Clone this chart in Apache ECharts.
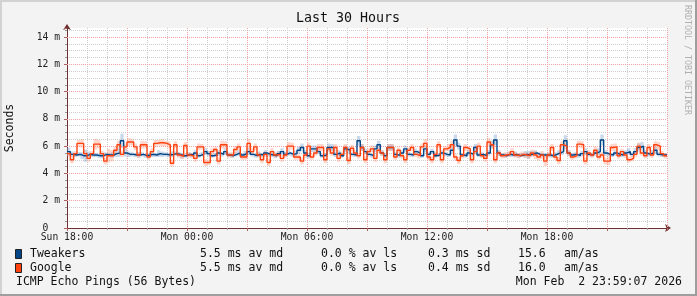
<!DOCTYPE html>
<html><head><meta charset="utf-8">
<script src="https://cdn.jsdelivr.net/npm/echarts@6/dist/echarts.min.js"></script>
<style>html,body{margin:0;padding:0;background:#f3f3f3}#c{width:697px;height:296px}</style>
</head><body><div id="c"></div>
<script>
// ---- data ----
const chartTitle = 'Last 30 Hours';
const yAxisName = 'Seconds';
const watermark = 'RRDTOOL / TOBI OETIKER';
const xTickHours = [0, 6, 12, 18, 24];
const xTickLabels = ['Sun 18:00', 'Mon 00:00', 'Mon 06:00', 'Mon 12:00', 'Mon 18:00'];
const spanHours = 30;
const seriesNames = ['Tweakers', 'Google'];
const medianAvg = [5.5, 5.5];
const lossAvg = [0.0, 0.0];
const sdAvg = [0.3, 0.4];
const amas = [15.6, 16.0];
const footerLeft = 'ICMP Echo Pings (56 Bytes)';
const footerRight = 'Mon Feb  2 23:59:07 2026';

// median RTT (ms), 10-minute steps
const tweakersMedian = [
5.6,5.4,5.35,5.4,5.3,5.3,5.4,5.35,5.35,5.3, 5.3,5.4,5.35,5.35,5.45,5.5,6.4,5.5,5.4,5.4, 5.35,5.35,5.4,5.3,5.35,5.4,5.35,5.45,5.4,5.4, 5.35,5.4,5.45,5.4,5.3,5.3,
5.4,5.35,5.5,5.3,5.4,5.6,5.45,5.3,5.35,5.5, 5.4,5.6,5.35,5.3,5.4,5.5,5.35,5.45,5.6,5.4, 5.3,5.4,5.35,5.5,5.4,5.35,5.3,5.45,5.6,5.4, 5.5,5.4,5.45,5.7,5.9,5.5,
5.3,5.8,5.8,5.6,5.3,5.35,5.9,5.9,5.4,5.5, 5.3,5.8,5.7,5.4,5.35,6.4,5.9,5.6,5.4,5.3, 5.8,6.1,5.5,5.3,5.9,5.9,5.4,5.3,5.5,5.8, 5.4,5.35,5.6,5.5,5.3,5.8,
5.4,5.6,5.3,5.35,5.5,5.4,5.35,5.7,6.45,6.0, 5.35,5.3,5.5,5.4,5.9,5.35,5.4,5.3,5.5,6.1, 6.45,5.5,5.35,5.3,5.4,5.35,5.4,5.3,5.35,5.4, 5.35,5.45,5.5,5.4,5.35,5.35,
5.35,5.3,5.4,5.5,5.6,6.4,5.5,5.35,5.4,5.3, 5.45,5.6,5.4,5.35,5.5,5.6,6.45,5.5,5.4,5.35, 5.5,5.4,5.35,5.5,5.6,5.4,5.6,5.9,6.0,5.5, 5.4,5.5,5.7,5.4,5.35,5.35
];
const googleMedian = [
5.45,5.0,5.45,6.2,6.2,5.45,5.1,5.45,6.15,6.15, 5.45,4.9,5.3,5.3,5.7,6.1,5.4,5.95,6.3,6.3, 5.95,5.35,6.1,6.1,5.2,5.6,6.2,6.25,6.25,6.2, 6.1,4.75,6.1,5.35,5.25,6.05,
5.35,5.3,5.1,5.95,5.95,4.8,4.8,5.6,5.75,4.9, 6.1,6.1,5.35,5.35,5.75,5.95,5.2,5.2,6.2,5.6, 5.95,5.35,5.0,5.4,4.8,5.6,5.35,5.4,5.1,5.35, 6.0,6.0,5.2,5.2,4.9,5.35,
6.0,5.2,5.5,5.9,5.9,5.0,5.8,5.5,5.9,5.1, 5.4,5.9,4.95,5.85,5.5,5.3,5.9,5.0,5.6,5.8, 5.1,5.7,5.5,5.0,5.9,5.9,5.2,5.7,5.3,5.0, 5.7,5.9,5.4,5.3,5.95,6.2,
5.2,5.0,5.4,6.1,5.0,5.8,5.9,6.1,5.2,4.95, 5.3,5.9,5.8,5.0,5.6,6.0,5.3,5.1,6.3,6.1, 5.0,5.5,5.3,5.35,5.4,5.6,5.35,5.3,5.4,5.35, 5.3,5.5,5.35,5.2,5.35,4.9,
5.35,5.9,5.2,4.95,6.1,6.0,5.5,5.2,5.3,6.15, 6.1,4.9,5.5,5.35,5.7,5.2,5.35,4.9,4.9,5.9, 5.95,5.3,5.6,5.35,5.0,5.1,5.4,6.0,5.5,5.3, 5.9,5.35,6.1,6.0,5.45,5.3
];
// standard deviation (ms) -> smoke band height
const tweakersSd = [
0.6,0.4,0.3,0.3,0.5,0.9,0.4,0.3,0.3,0.3, 0.4,0.3,0.3,0.4,0.5,0.6,1.0,0.5,0.4,0.3, 0.3,0.4,0.3,0.3,0.3,0.4,0.3,0.5,0.4,0.3, 0.3,0.4,0.3,0.3,0.4,0.3,
0.3,0.3,0.4,0.3,0.3,0.5,0.4,0.3,0.3,0.4, 0.3,0.5,0.3,0.3,0.3,0.4,0.3,0.4,0.5,0.3, 0.3,0.4,0.3,0.4,0.3,0.3,0.3,0.4,0.5,0.3, 0.4,0.3,0.4,0.5,0.6,0.4,
0.4,0.5,0.5,0.4,0.3,0.3,0.6,0.5,0.4,0.4, 0.3,0.5,0.5,0.3,0.3,0.7,0.5,0.4,0.3,0.3, 0.5,0.6,0.4,0.3,0.5,0.5,0.3,0.3,0.4,0.5, 0.3,0.3,0.4,0.4,0.3,0.5,
0.3,0.4,0.3,0.3,0.4,0.3,0.3,0.5,0.8,0.5, 0.3,0.3,0.4,0.3,0.5,0.3,0.3,0.3,0.4,0.6, 0.8,0.4,0.3,0.3,0.3,0.3,0.4,0.3,0.3,0.5, 0.6,0.4,0.4,0.3,0.3,0.3,
0.3,0.3,0.3,0.4,0.5,0.8,0.4,0.3,0.3,0.3, 0.4,0.5,0.3,0.3,0.4,0.5,0.8,0.4,0.3,0.3, 0.4,0.3,0.3,0.4,0.5,0.3,0.5,0.6,0.6,0.4, 0.3,0.4,0.5,0.3,0.3,0.3
];
const googleSd = [
0.4,0.5,0.4,0.5,0.6,0.4,0.5,0.4,0.8,0.6, 0.4,0.5,1.0,0.8,0.5,0.6,0.4,0.5,0.6,0.5, 0.5,0.4,0.6,0.5,0.4,0.5,0.5,0.4,0.5,0.4, 0.5,0.5,0.5,0.4,0.4,0.5,
0.4,0.4,0.5,0.5,0.4,0.5,0.4,0.5,0.4,0.5, 0.6,0.5,0.4,0.4,0.5,0.5,0.4,0.4,0.7,0.5, 0.5,0.4,0.5,0.4,0.5,0.5,0.4,0.4,0.5,0.4, 0.6,0.5,0.4,0.4,0.5,0.4,
0.5,0.4,0.4,0.5,0.5,0.5,0.4,0.4,0.5,0.5, 0.4,0.5,0.5,0.5,0.4,0.4,0.5,0.5,0.4,0.5, 0.5,0.4,0.4,0.5,0.5,0.5,0.4,0.4,0.4,0.5, 0.4,0.5,0.4,0.4,0.5,0.6,
0.5,0.5,0.4,0.5,0.5,0.4,0.5,0.6,0.5,0.5, 0.4,0.5,0.4,0.5,0.4,0.5,0.4,0.5,0.6,0.5, 0.5,0.4,0.4,0.4,0.4,0.5,0.4,0.4,0.4,0.4, 0.4,0.5,0.6,0.5,0.6,0.7,
0.4,0.5,0.4,0.5,0.5,0.5,0.4,0.4,0.4,0.5, 0.5,0.5,0.4,0.4,0.5,0.4,0.4,0.5,0.6,0.5, 0.5,0.4,0.4,0.4,0.4,0.4,0.4,0.5,0.4,0.4, 0.5,0.4,0.5,0.6,0.4,0.4
];

// ---- styles ----
const MONO = 'DejaVu Sans Mono';
const lineColors = ['#004586', '#ff420e'];
const smokeColors = ['rgba(120,160,205,0.40)', 'rgba(255,150,120,0.38)'];
const GRID_MINOR = '#cdcdcd';
const GRID_MAJOR = '#f3a3a3';
const AXIS_COLOR = '#6e3030';

function stepPts(arr) {
  const n = arr.length;
  const d = arr.map((v, i) => [i * spanHours / n, v]);
  d.push([spanHours, arr[n - 1]]);
  return d;
}
// smoke band: median +/- sd/2 drawn as a stepped polygon through the axes' scales
function smokeSeries(idx, med, sd) {
  return {
    type: 'custom', silent: true, z: 2, clip: true,
    data: [[0, med[0]]],
    encode: { x: 0, y: 1 },
    renderItem: (params, api) => {
      const n = med.length;
      const upper = [], lower = [];
      for (let i = 0; i < n; i++) {
        const x0 = i * spanHours / n, x1 = (i + 1) * spanHours / n;
        const hi = med[i] + sd[i] / 2, lo = med[i] - sd[i] / 2;
        upper.push(api.coord([x0, hi]), api.coord([x1, hi]));
        lower.push(api.coord([x0, lo]), api.coord([x1, lo]));
      }
      const pts = upper.concat(lower.reverse());
      return { type: 'polygon', shape: { points: pts }, style: { fill: smokeColors[idx] } };
    }
  };
}
function lineSeries(idx, med) {
  return { type: 'line', name: seriesNames[idx], data: stepPts(med), step: 'end', symbol: 'none',
    lineStyle: { color: lineColors[idx], width: 1.4 }, z: 3 + idx };
}

const chart = echarts.init(document.getElementById('c'), null, { renderer: 'canvas' });

const graphics = [
  { type: 'rect', shape: { x: 0, y: 0, width: 697, height: 2 }, style: { fill: '#d2d2d2' }, silent: true },
  { type: 'rect', shape: { x: 0, y: 0, width: 2, height: 296 }, style: { fill: '#d2d2d2' }, silent: true },
  { type: 'rect', shape: { x: 0, y: 294, width: 697, height: 2 }, style: { fill: '#9e9e9e' }, silent: true },
  { type: 'rect', shape: { x: 695, y: 0, width: 2, height: 296 }, style: { fill: '#9e9e9e' }, silent: true },
  { type: 'text', x: 348, y: 19, style: { text: chartTitle, font: '13.3px "' + MONO + '"', fill: '#111',
      align: 'center', verticalAlign: 'middle', textAlign: 'center', textVerticalAlign: 'middle' } },
  { type: 'text', x: 10, y: 128, rotation: Math.PI / 2, style: { text: yAxisName, font: '11.5px "' + MONO + '"', fill: '#111',
      align: 'center', verticalAlign: 'middle', textAlign: 'center', textVerticalAlign: 'middle' } },
  { type: 'text', x: 687, y: 60, rotation: -Math.PI / 2, style: { text: watermark, font: '8.3px "' + MONO + '"', fill: '#b0b0b0',
      align: 'center', verticalAlign: 'middle', textAlign: 'center', textVerticalAlign: 'middle' } }
];
const rowY = [254, 268];
const cols = [200, 321, 428, 518, 564];
seriesNames.forEach((nm, i) => {
  const y = rowY[i];
  graphics.push({ type: 'rect', shape: { x: 15.5, y: y - 4.5, width: 6, height: 9 },
    style: { fill: lineColors[i], stroke: '#222', lineWidth: 1 } });
  const texts = [nm, medianAvg[i].toFixed(1) + ' ms av md', lossAvg[i].toFixed(1) + ' % av ls',
    sdAvg[i].toFixed(1) + ' ms sd', amas[i].toFixed(1), 'am/as'];
  const xs = [30].concat(cols);
  texts.forEach((t, k) => graphics.push({ type: 'text', x: xs[k], y: y,
    style: { text: t, font: '11.5px "' + MONO + '"', fill: '#111', align: 'left', verticalAlign: 'middle',
      textAlign: 'left', textVerticalAlign: 'middle' } }));
});
graphics.push({ type: 'text', x: 16, y: 282, style: { text: footerLeft, font: '11.5px "' + MONO + '"', fill: '#111',
  align: 'left', verticalAlign: 'middle', textAlign: 'left', textVerticalAlign: 'middle' } });
graphics.push({ type: 'text', x: 682, y: 282, style: { text: footerRight, font: '11.5px "' + MONO + '"', fill: '#111',
  align: 'right', verticalAlign: 'middle', textAlign: 'right', textVerticalAlign: 'middle' } });

const yMax = 14.66;
const option = {
  animation: false,
  backgroundColor: '#f3f3f3',
  grid: { left: 67, top: 28, width: 600, height: 200, show: true, backgroundColor: '#ffffff', borderWidth: 0 },
  xAxis: [
    { type: 'value', min: 0, max: spanHours, interval: 1, position: 'bottom', z: 0,
      axisLine: { show: true, onZero: false, lineStyle: { color: AXIS_COLOR, width: 1 },
        symbol: ['none', 'arrow'], symbolSize: [6, 6], symbolOffset: [0, 4] },
      axisTick: { show: true, length: 2, lineStyle: { color: '#999' } },
      axisLabel: { color: '#222', fontFamily: MONO, fontSize: 9.7, margin: 4,
        formatter: v => { const k = xTickHours.indexOf(v); return k >= 0 ? xTickLabels[k] : ''; } },
      splitLine: { show: true, showMinLine: false, lineStyle: { color: GRID_MINOR, type: [1, 1], width: 1 } } },
    { type: 'value', min: 0, max: spanHours, interval: 3, position: 'bottom', z: 1,
      axisLine: { show: false }, axisTick: { show: true, length: 3, lineStyle: { color: '#b06060' } },
      axisLabel: { show: false },
      splitLine: { show: true, showMinLine: false, lineStyle: { color: GRID_MAJOR, type: [1, 1], width: 1 } } }
  ],
  yAxis: [
    { type: 'value', min: 0, max: yMax, interval: 0.5, position: 'left', z: 0,
      axisLine: { show: true, onZero: false, lineStyle: { color: AXIS_COLOR, width: 1 },
        symbol: ['none', 'arrow'], symbolSize: [6, 6], symbolOffset: [0, 4] },
      axisTick: { show: true, length: 2, lineStyle: { color: '#999' } },
      axisLabel: { color: '#222', fontFamily: MONO, fontSize: 9.7, margin: 7, showMaxLabel: false,
        formatter: v => { if (Math.abs(v % 2) > 1e-6) return ''; return v === 0 ? '0  ' : v + ' m'; } },
      splitLine: { show: true, showMinLine: false, showMaxLine: false, lineStyle: { color: GRID_MINOR, type: [1, 1], width: 1 } } },
    { type: 'value', min: 0, max: yMax, interval: 2, position: 'left', z: 1,
      axisLine: { show: false }, axisTick: { show: true, length: 3, lineStyle: { color: '#b06060' } },
      axisLabel: { show: false },
      splitLine: { show: true, showMinLine: false, showMaxLine: false, lineStyle: { color: GRID_MAJOR, type: [1, 1], width: 1 } } }
  ],
  series: [
    smokeSeries(0, tweakersMedian, tweakersSd),
    smokeSeries(1, googleMedian, googleSd),
    lineSeries(0, tweakersMedian),
    lineSeries(1, googleMedian)
  ],
  graphic: graphics
};
chart.setOption(option);
</script>
</body></html>
